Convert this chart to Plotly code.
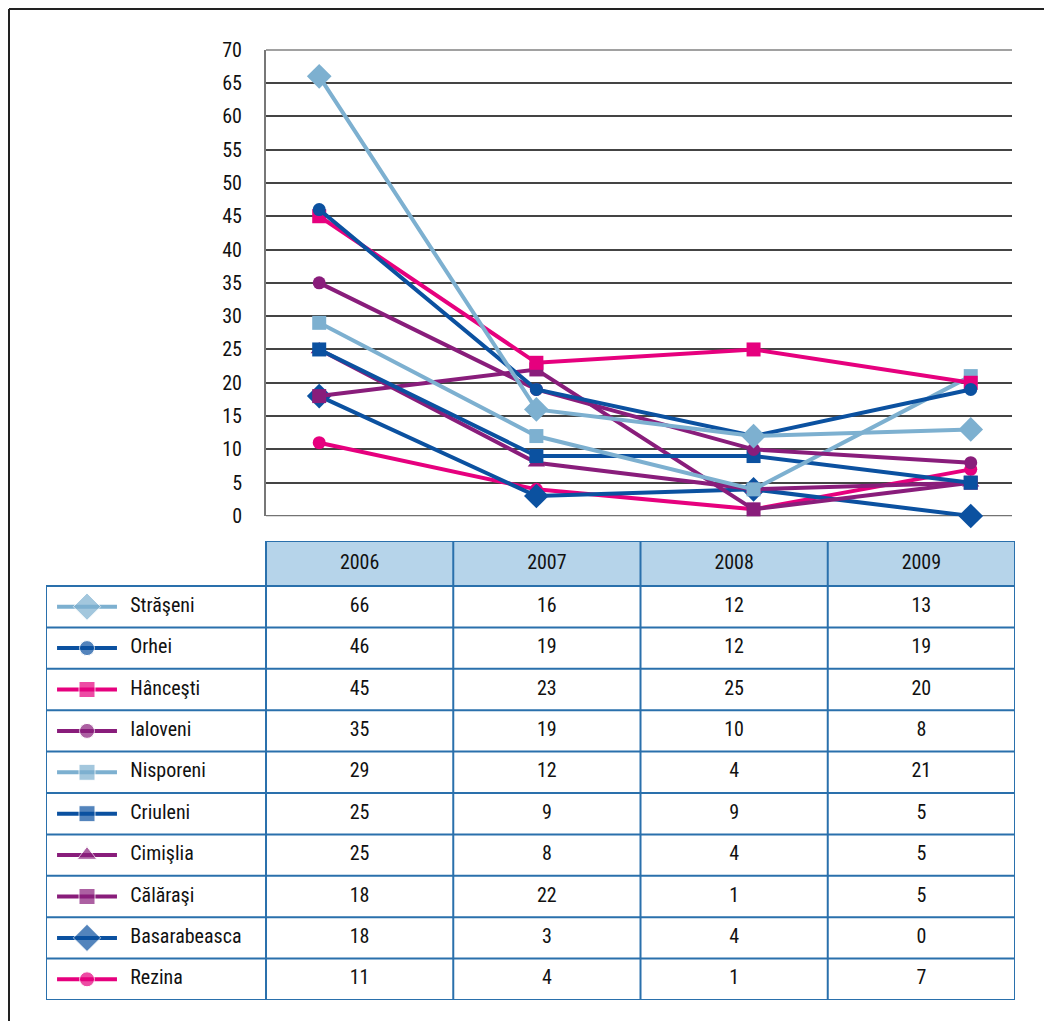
import plotly.graph_objects as go

years = ["2006", "2007", "2008", "2009"]
names = ["Străşeni", "Orhei", "Hânceşti", "Ialoveni", "Nisporeni",
         "Criuleni", "Cimişlia", "Călăraşi", "Basarabeasca", "Rezina"]
v_strauseni = [66, 16, 12, 13]
v_orhei = [46, 19, 12, 19]
v_hancesti = [45, 23, 25, 20]
v_ialoveni = [35, 19, 10, 8]
v_nisporeni = [29, 12, 4, 21]
v_criuleni = [25, 9, 9, 5]
v_cimislia = [25, 8, 4, 5]
v_calarasi = [18, 22, 1, 5]
v_basarabeasca = [18, 3, 4, 0]
v_rezina = [11, 4, 1, 7]
series = [v_strauseni, v_orhei, v_hancesti, v_ialoveni, v_nisporeni,
          v_criuleni, v_cimislia, v_calarasi, v_basarabeasca, v_rezina]
y_ticks = list(range(0, 75, 5))

LB = "#7DB0D0"
DB = "#0B51A0"
MG = "#E6007E"
PU = "#891D7B"
colors = [LB, DB, MG, PU, LB, DB, PU, PU, DB, MG]
symbols = ["diamond", "circle", "square", "circle", "square",
           "square", "triangle-up", "square", "diamond", "circle"]
sizes = [19, 13, 14, 13, 14, 14, 15, 14, 19, 13]

W, H = 1044, 1021
FONT = "Roboto Condensed, Liberation Sans Narrow, DejaVu Sans Condensed, sans-serif"
FS = 20
BORDER = "#2A70AC"
GRID = "#444"

fig = go.Figure()

# main line chart (first series drawn last, on top)
xi = list(range(len(years)))
for nm, vals, c, s, sz in reversed(list(zip(names, series, colors, symbols, sizes))):
    fig.add_trace(go.Scatter(
        x=xi, y=vals, mode="lines+markers", name=nm,
        line=dict(color=c, width=4),
        marker=dict(symbol=s, size=sz, color=c),
        xaxis="x", yaxis="y", showlegend=False, cliponaxis=False))

# table: texts
nrows = len(names)
rows = list(range(nrows))
for j, yr in enumerate(years):
    fig.add_trace(go.Scatter(
        x=[j + 0.5] * nrows, y=rows, mode="text",
        text=[str(s[j]) for s in series],
        textfont=dict(family=FONT, size=FS, color="#111"),
        xaxis="x2", yaxis="y2", showlegend=False, hoverinfo="skip"))
fig.add_trace(go.Scatter(
    x=[j + 0.5 for j in range(len(years))], y=[-1.04] * len(years),
    mode="text", text=years,
    textfont=dict(family=FONT, size=FS, color="#111"),
    xaxis="x2", yaxis="y2", showlegend=False, hoverinfo="skip"))
fig.add_trace(go.Scatter(
    x=[-0.725] * nrows, y=rows, mode="text", text=names,
    textposition="middle right",
    textfont=dict(family=FONT, size=FS, color="#111"),
    xaxis="x2", yaxis="y2", showlegend=False, hoverinfo="skip"))

# table: legend keys
for i, (c, s, sz) in enumerate(zip(colors, symbols, sizes)):
    fig.add_trace(go.Scatter(
        x=[-1.116, -0.956, -0.796], y=[i, i, i], mode="lines+markers",
        line=dict(color=c, width=4),
        marker=dict(symbol=s, size=[0, sz + 2, 0], color=c),
        xaxis="x2", yaxis="y2", showlegend=False, hoverinfo="skip"))

shapes = []
# edge gridlines of the chart (0 and 70)
for gv in (y_ticks[0], y_ticks[-1]):
    shapes.append(dict(type="line", xref="x domain", yref="y", x0=0, x1=1,
                       y0=gv, y1=gv, line=dict(color=GRID, width=1.5), layer="below"))
# header fill
shapes.append(dict(type="rect", xref="x2", yref="y2", x0=0, x1=4, y0=-1.587, y1=-0.5,
                   fillcolor="#B6D4EA", line=dict(width=0), layer="below"))
# horizontal lines
shapes.append(dict(type="line", xref="x2", yref="y2", x0=0, x1=4, y0=-1.587, y1=-1.587,
                   line=dict(color=BORDER, width=2)))
for r in range(nrows + 1):
    shapes.append(dict(type="line", xref="x2", yref="y2", x0=-1.175, x1=4,
                       y0=r - 0.5, y1=r - 0.5, line=dict(color=BORDER, width=2)))
# vertical lines
shapes.append(dict(type="line", xref="x2", yref="y2", x0=-1.175, x1=-1.175,
                   y0=-0.5, y1=nrows - 0.5, line=dict(color=BORDER, width=2)))
for j in range(len(years) + 1):
    shapes.append(dict(type="line", xref="x2", yref="y2", x0=j, x1=j,
                       y0=-1.587, y1=nrows - 0.5, line=dict(color=BORDER, width=2)))
# outer frame
shapes.append(dict(type="line", xref="paper", yref="paper", x0=9 / W, x1=1,
                   y0=1 - 9 / H, y1=1 - 9 / H, line=dict(color="#222", width=2)))
shapes.append(dict(type="line", xref="paper", yref="paper", x0=9 / W, x1=9 / W,
                   y0=0, y1=1 - 9 / H, line=dict(color="#222", width=2)))

fig.update_layout(
    template="none",
    width=W, height=H, autosize=False,
    margin=dict(l=0, r=0, t=0, b=0, pad=0, autoexpand=False),
    paper_bgcolor="white", plot_bgcolor="white",
    font=dict(family=FONT, size=FS, color="#111"),
    showlegend=False, hovermode=False,
    shapes=shapes,
    xaxis=dict(domain=[266 / W, 1012 / W], range=[-0.245, 3.19], automargin=False,
               showgrid=False, zeroline=False, showticklabels=False,
               showline=False, ticks="", fixedrange=True),
    yaxis=dict(domain=[1 - 516.2 / H, 1 - 49.5 / H], range=[-0.03, 70.03], automargin=False,
               tickvals=y_ticks, ticktext=[str(t) for t in y_ticks],
               showgrid=True, gridcolor=GRID, gridwidth=1.5,
               zeroline=False, showline=True, linecolor="#777", linewidth=2,
               ticks="", ticklabelstandoff=18,
               tickfont=dict(family=FONT, size=FS, color="#111"),
               fixedrange=True),
    xaxis2=dict(domain=[46 / W, 1015 / W], range=[-1.175, 4], anchor="y2",
                automargin=False, visible=False, fixedrange=True),
    yaxis2=dict(domain=[1 - 1000 / H, 1 - 541 / H], range=[nrows - 0.5, -1.587],
                anchor="x2", automargin=False, visible=False, fixedrange=True),
)

fig.write_html("out.html", config=dict(displayModeBar=False),
               post_script="document.body.style.margin='0';")
